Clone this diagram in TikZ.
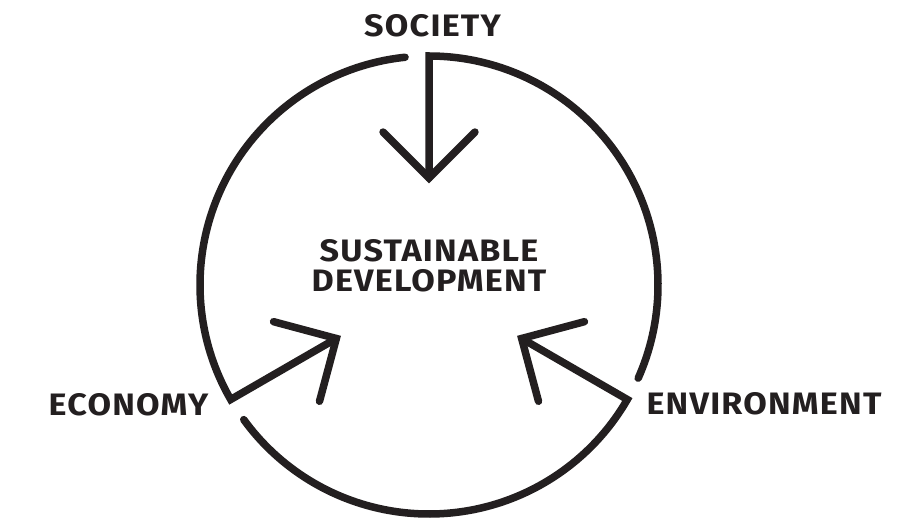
\documentclass[tikz,border=0pt]{standalone}
\usepackage{fontspec}
\setmainfont{Fira Sans}[FakeStretch=1.1, LetterSpace=4]
\definecolor{ink}{HTML}{231F20}
\begin{document}
\begin{tikzpicture}[x=1pt,y=1pt,
  piece/.style={draw=ink, line width=7.5pt, line cap=round, line join=miter},
  lbl/.style={text=ink, inner sep=0pt, font=\fontsize{31}{30}\selectfont\bfseries}]
\useasboundingbox (0,0) rectangle (923,517);
\coordinate (c) at (429,232);
\foreach \a/\n in {90/s,210/e,330/v} {
  \draw[piece] ([shift={({\a-114}:229)}]c) arc[start angle={\a-114}, end angle=\a, radius=229]
     coordinate (corner\n) -- ++({\a+180}:122) coordinate (tip\n);
  \draw[piece] ([shift={({\a-45}:65)}]tip\n) -- (tip\n) -- ([shift={({\a+45}:65)}]tip\n);
}
\node[lbl] (society) at (432.5,491) {SOCIETY};
\node[lbl] (economy) at (128.5,112) {ECONOMY};
\node[lbl] (environment) at (764,113) {ENVIRONMENT};
\node[lbl, align=center] (sd) at (429,251) {SUSTAINABLE\\DEVELOPMENT};
\end{tikzpicture}
\end{document}
